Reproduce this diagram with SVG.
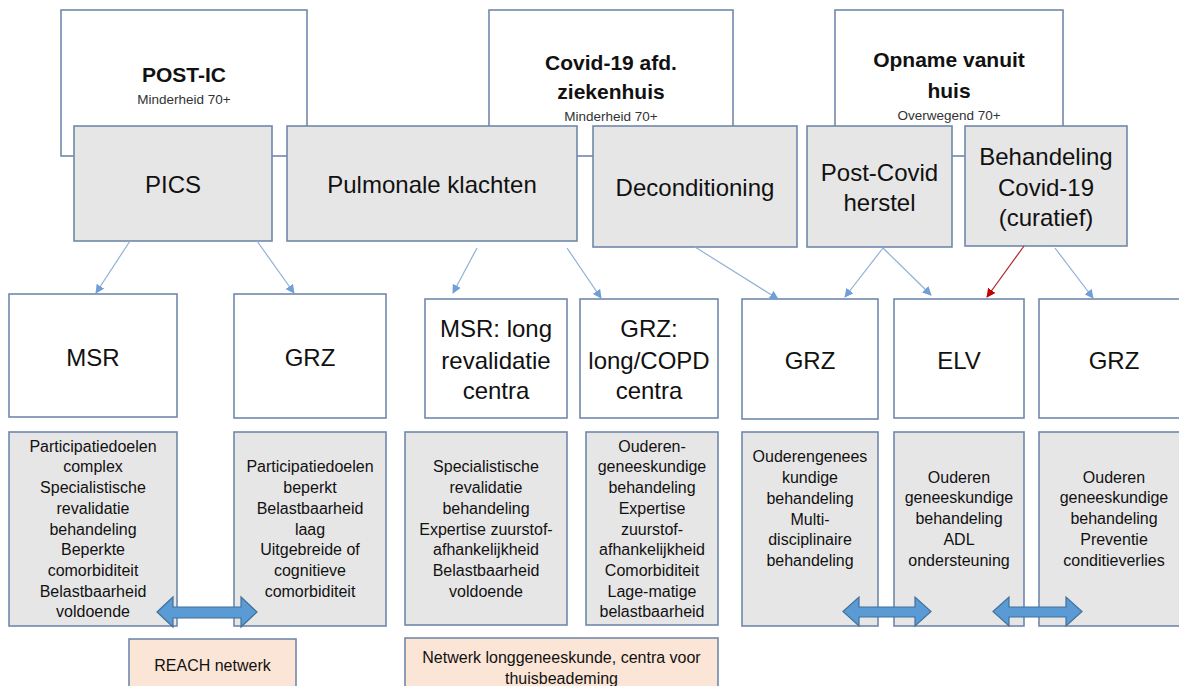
<svg xmlns="http://www.w3.org/2000/svg" width="1179" height="686" viewBox="0 0 1179 686">
<defs>
<style>
.wb{fill:#ffffff;stroke:#7189ab;stroke-width:1.6}
.gb{fill:#e7e6e6;stroke:#7189ab;stroke-width:1.6}
.pb{fill:#fbe5d6;stroke:#7189ab;stroke-width:1.6}
text{font-family:"Liberation Sans",Arial,sans-serif;fill:#111;text-anchor:middle}
.h{font-size:21px;font-weight:bold}
.s{font-size:13.5px;fill:#333}
.m{font-size:24px}
.t{font-size:16px}
.con{stroke:#8fb0d6;stroke-width:1.2;fill:none;marker-end:url(#ab)}
.red{stroke:#b22222;stroke-width:1.2;fill:none;marker-end:url(#ar)}
.blk{fill:#5b9bd5;stroke:#41719c;stroke-width:1.2}
</style>
<marker id="ab" viewBox="0 0 10 10" refX="9" refY="5" markerWidth="9" markerHeight="9" markerUnits="userSpaceOnUse" orient="auto"><path d="M0,0 L10,5 L0,10 z" fill="#6f9fd6"/></marker>
<marker id="ar" viewBox="0 0 10 10" refX="9" refY="5" markerWidth="9" markerHeight="9" markerUnits="userSpaceOnUse" orient="auto"><path d="M0,0 L10,5 L0,10 z" fill="#c00000"/></marker>
</defs>
<rect width="1179" height="686" fill="#ffffff"/>

<g id="post-ic"><rect class="wb" x="61" y="10" width="246" height="146"/>
<text class="h" x="184" y="82">POST-IC</text><text class="s" x="184" y="104">Minderheid 70+</text></g>
<g id="covid-afd"><rect class="wb" x="489" y="10" width="244" height="146"/>
<text class="h" x="611" y="70">Covid-19 afd.</text><text class="h" x="611" y="98.5">ziekenhuis</text><text class="s" x="611" y="121">Minderheid 70+</text></g>
<g id="opname"><rect class="wb" x="835" y="10" width="228" height="146"/>
<text class="h" x="949" y="67">Opname vanuit</text><text class="h" x="949" y="97.5">huis</text><text class="s" x="949" y="119.5">Overwegend 70+</text></g>

<g id="pics"><rect class="gb" x="74" y="126" width="198" height="115"/><text class="m" x="173" y="192.5">PICS</text></g>
<g id="pulmonale"><rect class="gb" x="287" y="126" width="290" height="115"/><text class="m" x="432" y="192.5">Pulmonale klachten</text></g>
<g id="deconditioning"><rect class="gb" x="593" y="126" width="204" height="121"/><text class="m" x="695" y="196">Deconditioning</text></g>
<g id="post-covid"><rect class="gb" x="807" y="126" width="145" height="121"/><text class="m" x="879.5" y="180.5">Post-Covid</text><text class="m" x="879.5" y="210.5">herstel</text></g>
<g id="behandeling"><rect class="gb" x="965" y="126" width="162" height="120"/><text class="m" x="1046" y="164.5">Behandeling</text><text class="m" x="1046" y="195.5">Covid-19</text><text class="m" x="1046" y="225.5">(curatief)</text></g>

<g id="msr"><rect class="wb" x="9" y="294" width="168" height="123"/><text class="m" x="93" y="365.5">MSR</text></g>
<g id="grz1"><rect class="wb" x="234" y="294" width="152" height="124"/><text class="m" x="310" y="365.5">GRZ</text></g>
<g id="msr-long"><rect class="wb" x="425" y="299" width="142" height="119"/><text class="m" x="496" y="336.5">MSR: long</text><text class="m" x="496" y="368.5">revalidatie</text><text class="m" x="496" y="398.5">centra</text></g>
<g id="grz-long"><rect class="wb" x="580" y="299" width="138" height="119"/><text class="m" x="649" y="336.5">GRZ:</text><text class="m" x="649" y="368.5">long/COPD</text><text class="m" x="649" y="398.5">centra</text></g>
<g id="grz2"><rect class="wb" x="742" y="299" width="136" height="120"/><text class="m" x="810" y="368.5">GRZ</text></g>
<g id="elv"><rect class="wb" x="894" y="299" width="130" height="119"/><text class="m" x="959" y="368.5">ELV</text></g>
<g id="grz3"><rect class="wb" x="1039" y="299" width="150" height="119"/><text class="m" x="1114" y="368.5">GRZ</text></g>

<g id="msr-txt"><rect class="gb" x="9" y="432" width="168" height="194"/>
<text class="t" x="93" y="451.7">Participatiedoelen</text><text class="t" x="93" y="472.4">complex</text><text class="t" x="93" y="493.1">Specialistische</text><text class="t" x="93" y="513.8">revalidatie</text><text class="t" x="93" y="534.5">behandeling</text><text class="t" x="93" y="555.2">Beperkte</text><text class="t" x="93" y="575.9">comorbiditeit</text><text class="t" x="93" y="596.6">Belastbaarheid</text><text class="t" x="93" y="617.3">voldoende</text></g>
<g id="grz1-txt"><rect class="gb" x="234" y="432" width="152" height="194"/>
<text class="t" x="310" y="472.4">Participatiedoelen</text><text class="t" x="310" y="493.1">beperkt</text><text class="t" x="310" y="513.8">Belastbaarheid</text><text class="t" x="310" y="534.5">laag</text><text class="t" x="310" y="555.2">Uitgebreide of</text><text class="t" x="310" y="575.9">cognitieve</text><text class="t" x="310" y="596.6">comorbiditeit</text></g>
<g id="msr-long-txt"><rect class="gb" x="405" y="432" width="162" height="193"/>
<text class="t" x="486" y="472.4">Specialistische</text><text class="t" x="486" y="493.1">revalidatie</text><text class="t" x="486" y="513.8">behandeling</text><text class="t" x="486" y="534.5">Expertise zuurstof-</text><text class="t" x="486" y="555.2">afhankelijkheid</text><text class="t" x="486" y="575.9">Belastbaarheid</text><text class="t" x="486" y="596.6">voldoende</text></g>
<g id="grz-long-txt"><rect class="gb" x="586" y="432" width="132" height="193"/>
<text class="t" x="652" y="451.7">Ouderen-</text><text class="t" x="652" y="472.4">geneeskundige</text><text class="t" x="652" y="493.1">behandeling</text><text class="t" x="652" y="513.8">Expertise</text><text class="t" x="652" y="534.5">zuurstof-</text><text class="t" x="652" y="555.2">afhankelijkheid</text><text class="t" x="652" y="575.9">Comorbiditeit</text><text class="t" x="652" y="596.6">Lage-matige</text><text class="t" x="652" y="617.3">belastbaarheid</text></g>
<g id="grz2-txt"><rect class="gb" x="742" y="432" width="136" height="194"/>
<text class="t" x="810" y="462.4">Ouderengenees</text><text class="t" x="810" y="483.1">kundige</text><text class="t" x="810" y="503.8">behandeling</text><text class="t" x="810" y="524.5">Multi-</text><text class="t" x="810" y="545.2">disciplinaire</text><text class="t" x="810" y="565.9">behandeling</text></g>
<g id="elv-txt"><rect class="gb" x="894" y="432" width="130" height="194"/>
<text class="t" x="959" y="482.7">Ouderen</text><text class="t" x="959" y="503.4">geneeskundige</text><text class="t" x="959" y="524.1">behandeling</text><text class="t" x="959" y="544.8">ADL</text><text class="t" x="959" y="565.5">ondersteuning</text></g>
<g id="grz3-txt"><rect class="gb" x="1039" y="432" width="150" height="194"/>
<text class="t" x="1114" y="482.7">Ouderen</text><text class="t" x="1114" y="503.4">geneeskundige</text><text class="t" x="1114" y="524.1">behandeling</text><text class="t" x="1114" y="544.8">Preventie</text><text class="t" x="1114" y="565.5">conditieverlies</text></g>

<g id="reach"><rect class="pb" x="129" y="639" width="167" height="70"/><text class="t" x="212.5" y="670.5">REACH netwerk</text></g>
<g id="netwerk"><rect class="pb" x="405" y="638" width="313" height="70"/><text class="t" x="561.5" y="662.5">Netwerk longgeneeskunde, centra voor</text><text class="t" x="561.5" y="683.5">thuisbeademing</text></g>

<g id="connectors">
<line class="con" x1="130" y1="241" x2="96" y2="293"/>
<line class="con" x1="257" y1="241" x2="294" y2="293"/>
<line class="con" x1="477" y1="248" x2="453" y2="293"/>
<line class="con" x1="567" y1="248" x2="601" y2="298"/>
<line class="con" x1="695" y1="247" x2="778" y2="299"/>
<line class="con" x1="883" y1="248" x2="845" y2="297"/>
<line class="con" x1="883" y1="248" x2="931" y2="295"/>
<line class="red" x1="1024" y1="246" x2="987" y2="297"/>
<line class="con" x1="1055" y1="248" x2="1093" y2="298"/>
<path class="blk" d="M157,612 L173,597 L173,607 L241,607 L241,597 L257,612 L241,627 L241,618 L173,618 L173,627 Z"/>
<path class="blk" d="M843,611.5 L859,597 L859,607 L915,607 L915,597 L931,611.5 L915,626 L915,617 L859,617 L859,626 Z"/>
<path class="blk" d="M993,611.5 L1009,597 L1009,607 L1066,607 L1066,597 L1082,611.5 L1066,626 L1066,617 L1009,617 L1009,626 Z"/>
</g>
</svg>
